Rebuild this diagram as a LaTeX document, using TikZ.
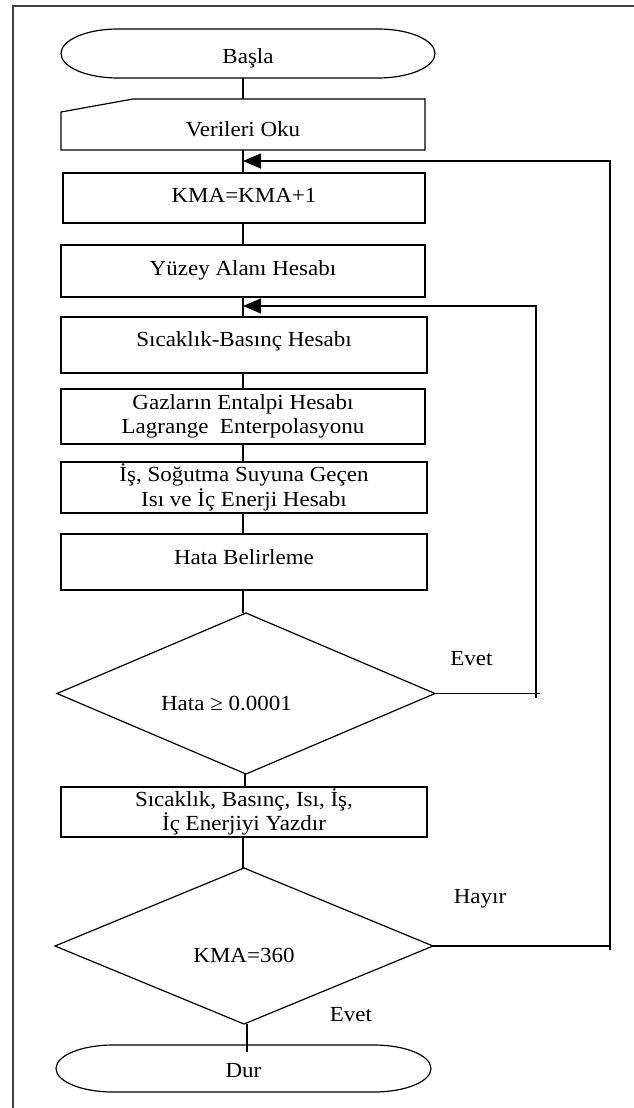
\documentclass[tikz,border=0pt]{standalone}
\usepackage{fontspec}
\setmainfont{Liberation Serif}[FakeStretch=1.07]
\usetikzlibrary{arrows.meta}
\tikzset{
  base/.style={draw=none, inner sep=0pt, outer sep=0pt, font=\fontsize{21.5}{24.5}\selectfont},
  box/.style={base, draw, line width=1.2pt, rectangle},
  plain/.style={base, rectangle},
  one/.style={text depth=0pt, text height=#1},
  lbl/.style={inner sep=0pt, font=\fontsize{21.5}{24.5}\selectfont, anchor=base},
  outline/.style={line width=1.2pt},
  conn/.style={line width=1.2pt},
  flow/.style={line width=1.2pt, -{Triangle[length=18pt,width=15pt]}},
  frame/.style={line width=1.3pt, black!75},
}
\begin{document}
\begin{tikzpicture}[x=1pt,y=-1pt]
\useasboundingbox (0,0) rectangle (634,1108);
\draw[frame] (13,1108) -- (13,6) -- (634,6);

% nodes
\node[plain, one=19.6pt, minimum width=374pt, minimum height=49pt] (start) at (248,53.5) {Başla};
\node[plain, one=24.4pt, minimum width=364pt, minimum height=51pt] (read) at (243,124.5) {Verileri Oku};
\node[box, one=9.4pt, minimum width=362pt, minimum height=50pt] (kma) at (244,198) {KMA=KMA+1};
\node[box, one=9.4pt, minimum width=364pt, minimum height=52pt] (area) at (243,271) {Yüzey Alanı Hesabı};
\node[box, one=3.4pt, minimum width=366pt, minimum height=56pt] (tp) at (244,345) {Sıcaklık-Basınç Hesabı};
\node[box, minimum width=364pt, minimum height=55pt, align=center] (enth) at (243,416.5) {Gazların Entalpi Hesabı\\Lagrange\ \ Enterpolasyonu};
\node[box, minimum width=366pt, minimum height=51pt, align=center] (work) at (244,487.5) {İş, Soğutma Suyuna Geçen\\Isı ve İç Enerji Hesabı};
\node[box, one=4pt, minimum width=366pt, minimum height=56pt] (err) at (244,562) {Hata Belirleme};
\node[plain, one=33pt, minimum width=378pt, minimum height=161pt] (d1) at (246,693.5) {Hata ≥ 0.0001\hspace*{39pt}};
\node[box, minimum width=366pt, minimum height=50pt, align=center] (out) at (244,812) {Sıcaklık, Basınç, Isı, İş,\\İç Enerjiyi Yazdır};
\node[plain, one=33.4pt, minimum width=378pt, minimum height=156pt] (d2) at (244,946) {KMA=360};
\node[plain, one=18.4pt, minimum width=375pt, minimum height=47pt] (stop) at (243.5,1068.5) {Dur};

\node[lbl] (evet1) at (471.5,665) {Evet};
\node[lbl] (hayir) at (480,903) {Hayır};
\node[lbl] (evet2) at (351,1021.7) {Evet};

% shape outlines
\draw[outline] ([xshift=57pt]start.north west) -- ([xshift=-57pt]start.north east)
  arc[start angle=90, end angle=-90, x radius=57pt, y radius=24.5pt]
  -- ([xshift=57pt]start.south west)
  arc[start angle=270, end angle=90, x radius=57pt, y radius=24.5pt] -- cycle;
\draw[outline] ([xshift=57pt]stop.north west) -- ([xshift=-57pt]stop.north east)
  arc[start angle=90, end angle=-90, x radius=57pt, y radius=23.5pt]
  -- ([xshift=57pt]stop.south west)
  arc[start angle=270, end angle=90, x radius=57pt, y radius=23.5pt] -- cycle;
\draw[outline] (read.north east) -- (read.south east) -- (read.south west)
  -- ([yshift=-13pt]read.north west) -- ([xshift=72pt]read.north west) -- cycle;
\draw[outline] (d1.north) -- (d1.east) -- (d1.south) -- (d1.west) -- cycle;
\draw[outline] (d2.north) -- (d2.east) -- (d2.south) -- (d2.west) -- cycle;

% axis and junctions
\coordinate (ax) at (243,0);
\coordinate (j2) at (243,161);
\coordinate (r2) at (610,161);
\coordinate (j1) at (243,306);
\coordinate (r1) at (536,306);

% vertical connectors
\draw[conn] (start.south -| ax) -- (read.north -| ax);
\draw[conn] (read.south -| ax) -- (kma.north -| ax);
\draw[conn] (kma.south -| ax) -- (area.north -| ax);
\draw[conn] (area.south -| ax) -- (tp.north -| ax);
\draw[conn] (tp.south -| ax) -- (enth.north -| ax);
\draw[conn] (enth.south -| ax) -- (work.north -| ax);
\draw[conn] (work.south -| ax) -- (err.north -| ax);
\draw[conn] (err.south -| ax) -- (d1.north -| ax);
\draw[conn] ([xshift=-1pt]d1.south) -- ([xshift=-1pt]d1.south |- out.north);
\draw[conn] (out.south -| ax) -- (d2.north -| ax);
\draw[conn] ([xshift=3pt]d2.south) -- ([xshift=3pt,yshift=-7pt]d2.south |- stop.north);

% loops
\draw[conn] (d1.east) -- ([xshift=4pt]d1.east -| r1);
\draw[flow] ([yshift=-4pt]d1.east -| r1) -- (r1) -- (j1);
\draw[conn] (d2.east) -- (d2.east -| r2);
\draw[flow] ([yshift=-4pt]d2.east -| r2) -- (r2) -- (j2);
\end{tikzpicture}
\end{document}
